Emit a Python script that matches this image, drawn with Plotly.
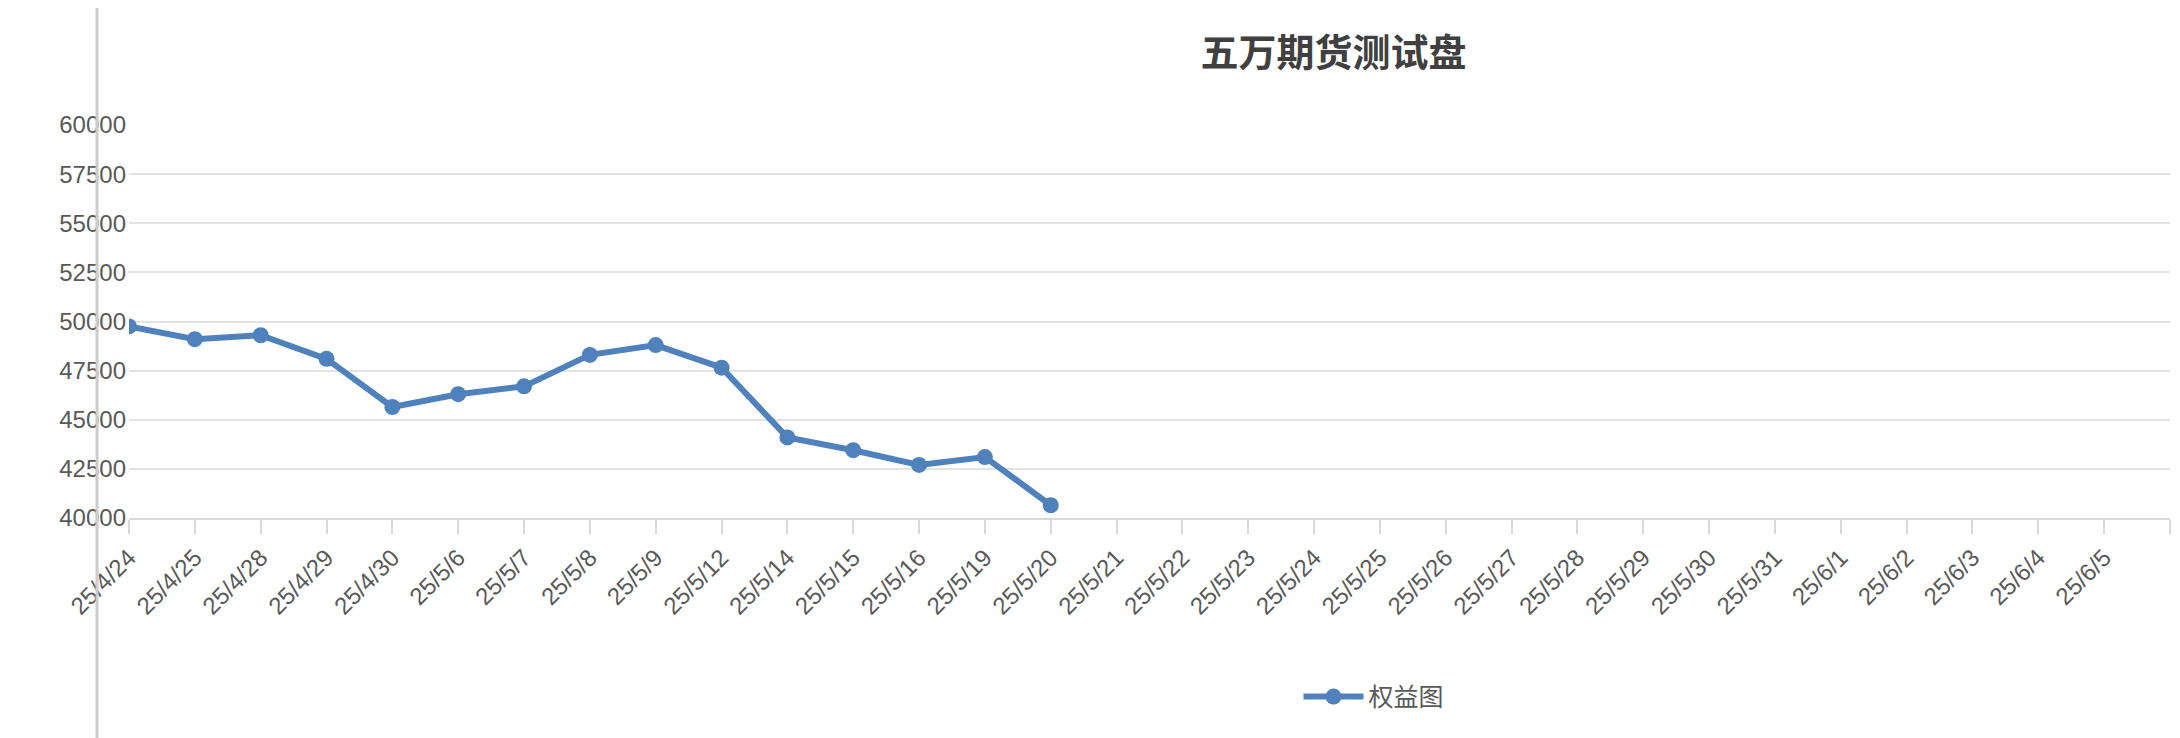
import plotly.graph_objects as go

dates = ["25/4/24", "25/4/25", "25/4/28", "25/4/29", "25/4/30", "25/5/6", "25/5/7", "25/5/8",
         "25/5/9", "25/5/12", "25/5/14", "25/5/15", "25/5/16", "25/5/19", "25/5/20",
         "25/5/21", "25/5/22", "25/5/23", "25/5/24", "25/5/25", "25/5/26", "25/5/27",
         "25/5/28", "25/5/29", "25/5/30", "25/5/31", "25/6/1", "25/6/2", "25/6/3",
         "25/6/4", "25/6/5", " "]
equity = [49750, 49100, 49300, 48100, 45650, 46300, 46700, 48300, 48800, 47650,
          44100, 43450, 42700, 43100, 40650]

W, H = 2180, 738
L, R, T, B = 121, 18, 117, 228

fig = go.Figure()
fig.add_trace(go.Scatter(
    x=dates[:len(equity)], y=equity, name="权益图", mode="lines+markers",
    line=dict(color="#4f81bd", width=6), marker=dict(size=16, color="#4f81bd")))
# empty trace to keep all categories on the axis
fig.add_trace(go.Scatter(x=dates, y=[None] * len(dates), showlegend=False, hoverinfo="skip"))

fig.update_layout(
    width=W, height=H, autosize=False,
    margin=dict(l=L, r=R, t=T, b=B, autoexpand=False),
    paper_bgcolor="white", plot_bgcolor="white",
    font=dict(family="Liberation Sans, Noto Sans CJK SC", size=24, color="#595959"),
    title=dict(text="<b>五万期货测试盘</b>", x=0.608, xanchor="center", y=0.94, yanchor="middle",
               font=dict(family="Noto Sans CJK SC", size=38, color="#404040")),
    showlegend=True,
    legend=dict(orientation="h", x=0.61, xanchor="center", y=-0.455, yanchor="middle",
                itemwidth=60, font=dict(family="Noto Sans CJK SC", size=25, color="#595959")),
)
fig.update_xaxes(type="category", categoryorder="array", categoryarray=dates,
                 range=[0, len(dates) - 1], tickangle=-45, showgrid=False, automargin=False,
                 showline=True, linecolor="#d9d9d9", linewidth=2,
                 ticks="outside", ticklen=14, tickcolor="#d9d9d9", tickwidth=2,
                 tickfont=dict(size=24, color="#595959"))
fig.update_yaxes(range=[40000, 60000], dtick=2500, tickformat="d", showgrid=True,
                 gridcolor="#e3e3e3", gridwidth=2, zeroline=False, showline=False,
                 automargin=False, tickfont=dict(size=24, color="#595959"), ticklabelstandoff=2)

pw = W - L - R
ph = H - T - B
fig.add_shape(type="line", xref="paper", yref="paper",
              x0=(89 - L) / pw, x1=(89 - L) / pw, y0=-B / ph, y1=1 + T / ph,
              line=dict(color="#cccccc", width=3))
fig.add_shape(type="line", xref="paper", yref="paper",
              x0=(89 - L) / pw, x1=1 + R / pw, y0=(H - B - 734) / ph, y1=(H - B - 734) / ph,
              line=dict(color="#dddddd", width=2))

fig.write_html("out.html")
